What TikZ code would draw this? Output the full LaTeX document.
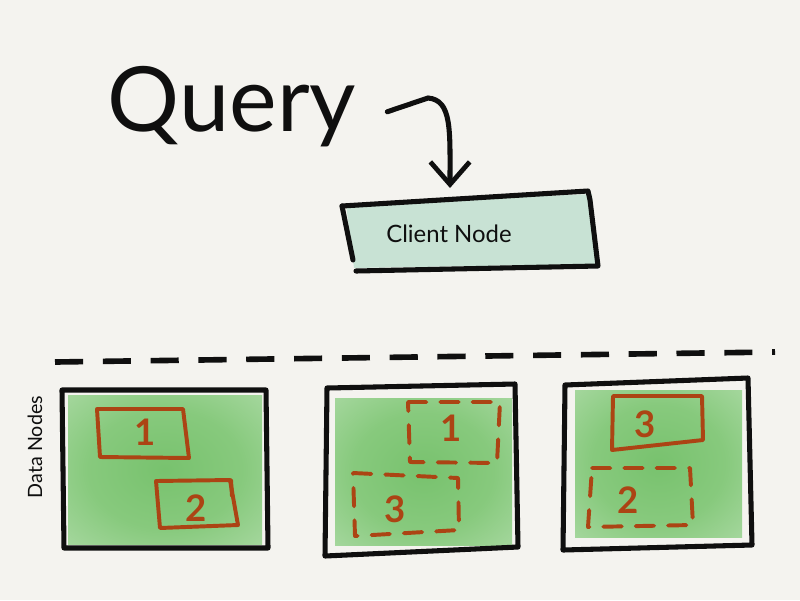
\documentclass[tikz,border=0pt]{standalone}
\usepackage{fontspec}
\setmainfont{Lato}
\usetikzlibrary{arrows.meta}
\definecolor{paper}{RGB}{244,243,239}
\definecolor{ink}{RGB}{15,15,15}
\definecolor{rust}{RGB}{172,68,20}
\definecolor{mint}{RGB}{200,226,212}
\pgfdeclareradialshading{washy}{\pgfpoint{0bp}{0bp}}{%
  rgb(0bp)=(0.47,0.76,0.43);
  rgb(20bp)=(0.53,0.79,0.49);
  rgb(35bp)=(0.64,0.84,0.61);
  rgb(48bp)=(0.80,0.91,0.78);
  rgb(72bp)=(0.90,0.94,0.89)}
\tikzset{
  frame/.style={draw=ink, line width=3.6pt, line join=round, line cap=round},
  shard/.style={draw=rust, line width=2.8pt, line join=round, line cap=round},
  ghost/.style={shard, dash pattern=on 13pt off 10pt},
  num/.style={text=rust, font=\fontsize{26}{26}\selectfont\bfseries},
  wash/.style={shading=washy},
}
\begin{document}
\begin{tikzpicture}[x=0.025cm, y=-0.025cm]
\fill[paper] (0,0) rectangle (800,600);
\useasboundingbox (0,0) rectangle (800,600);

% Query
\node[anchor=base, inner sep=0pt, text=ink, font=\fontsize{64}{64}\selectfont] (query) at (232,131) {Query};

% Client node
\fill[mint] (346,204) -- (592,194) -- (596,264) -- (354,268) -- cycle;
\draw[frame] (342,206) -- (353,260);
\draw[frame] (342,206) -- (588,191) -- (590,200) -- (598,266) -- (356,271);
\node[font=\fontsize{17}{17}\selectfont, text=ink] (client) at (449,234) {Client Node};
\coordinate (clienttop) at (450,188);

% arrow
\draw[ink, line width=3.6pt, line cap=round, -{Straight Barb[length=16pt,width=28pt,line width=3.4pt]}]
  ([xshift=22pt,yshift=-4pt]query.east) -- (428,98) .. controls (452,100) and (450,130) .. (clienttop);

% dashed separator
\coordinate (sepL) at (55,362);
\coordinate (sepR) at (775,352);
\draw[ink, line width=4pt, dash pattern=on 20pt off 14pt] (sepL) -- (sepR);

% Data nodes label
\node[rotate=90, font=\fontsize{14}{14}\selectfont, text=ink] (dn) at (35,447) {Data Nodes};

% ---- Data node 1
\shade[wash] (68,395) rectangle (262,544);
\draw[frame] (62,390) -- (266,390) -- (268,548) -- (64,548) -- cycle;
\draw[shard] (97,409) -- (183,409) -- (189,458) -- (100,457) -- cycle;
\node[num] (s1a) at (145,432) {1};
\draw[shard] (156,481) -- (230,480) -- (238,525) -- (160,528) -- cycle;
\draw[shard] (231,480) -- (232,496);
\node[num] (s2a) at (196,508) {2};

% ---- Data node 2
\shade[wash] (335,398) rectangle (512,545);
\draw[frame] (327,388) -- (515,384) -- (518,547) -- (325,556) -- cycle;
\draw[ghost] (408,402) -- (500,402) -- (497,463) -- (410,462) -- cycle;
\node[num] (s1b) at (451,428) {1};
\draw[ghost] (353,473) -- (458,478) -- (459,530) -- (355,536) -- cycle;
\node[num] (s3b) at (395,509) {3};

% ---- Data node 3
\shade[wash] (575,390) rectangle (742,537);
\draw[frame] (565,385) -- (748,378) -- (752,545) -- (563,550) -- cycle;
\draw[shard] (613,396) -- (702,396) -- (703,440) -- (612,450) -- cycle;
\node[num] (s3c) at (645,424) {3};
\draw[ghost] (592,468) -- (690,468) -- (693,525) -- (588,527) -- cycle;
\node[num] (s2c) at (628,500) {2};
\end{tikzpicture}
\end{document}
